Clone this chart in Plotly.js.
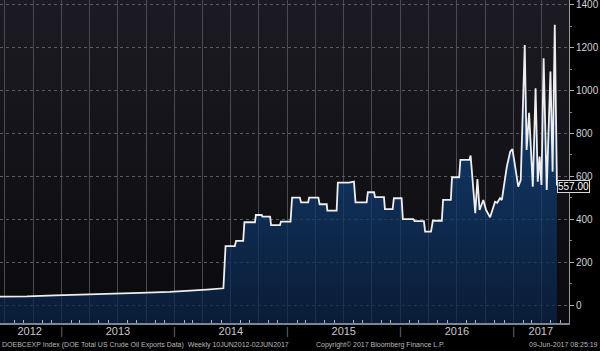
<!DOCTYPE html>
<html><head><meta charset="utf-8">
<script src="https://cdn.plot.ly/plotly-3.0.1.min.js"></script>
<style>
html,body{margin:0;padding:0;background:#000;}
#wrap{position:relative;width:600px;height:351px;background:#000;overflow:hidden;}
#bg{position:absolute;left:0;top:0;width:569px;height:323px;background:linear-gradient(#1c1b23,#0a0a0d);}
#chart{position:absolute;left:0;top:0;width:600px;height:351px;}
</style></head><body>
<div id="wrap"><div id="bg"></div><div id="chart"></div></div>
<script>
// Weekly DOE Total US Crude Oil Exports (thousand b/d)
const dates = [
 '2012-06-10','2012-09-11','2012-12-11','2013-03-12','2013-07-09','2013-09-11','2013-12-17','2014-03-19','2014-04-15','2014-06-08',
 '2014-06-15','2014-07-15','2014-07-19','2014-08-11','2014-08-15','2014-09-18','2014-09-21','2014-10-10','2014-10-12','2014-11-06',
 '2014-11-09','2014-12-08','2014-12-11','2015-01-11','2015-01-16','2015-02-10','2015-02-14','2015-03-09','2015-03-12','2015-04-11',
 '2015-04-15','2015-05-08','2015-05-10','2015-06-09','2015-06-13','2015-07-19','2015-07-29','2015-08-04','2015-08-09','2015-09-14',
 '2015-09-18','2015-10-08','2015-10-11','2015-11-09','2015-11-12','2015-12-07','2015-12-11','2016-01-05','2016-01-09','2016-02-12',
 '2016-02-16','2016-03-17','2016-03-21','2016-04-09','2016-04-15','2016-05-14','2016-05-18','2016-06-12','2016-06-16','2016-07-09',
 '2016-07-13','2016-08-11','2016-08-15','2016-08-30','2016-09-06','2016-09-13','2016-09-25','2016-10-04','2016-10-17','2016-11-02',
 '2016-11-09','2016-11-18','2016-11-24','2016-12-10','2016-12-21','2016-12-28','2017-01-06','2017-01-16','2017-01-24','2017-02-06',
 '2017-02-12','2017-02-20','2017-03-04','2017-03-13','2017-03-20','2017-03-26','2017-04-01','2017-04-08','2017-04-18','2017-04-30',
 '2017-05-07','2017-05-14','2017-05-21'
];
const values = [
 39,40,45,48,54,57,61,67,72,78,
 275,275,299,299,386,386,420,420,412,412,
 373,373,389,389,501,501,479,479,501,501,
 470,470,440,440,571,571,576,576,479,479,
 526,526,503,503,447,447,498,498,401,401,
 391,391,342,342,393,393,490,490,596,596,
 677,677,697,428,587,443,490,443,409,482,
 477,498,490,645,715,728,645,552,583,1213,
 723,897,552,1011,575,692,560,1151,537,1089,
 622,1307,557
];
const yearLabelDates = ['2012-09-20','2013-07-02','2014-07-02','2015-07-02','2016-07-02','2017-03-30'];
const yearLabels = ['2012','2013','2014','2015','2016','2017'];
const yearBoundaries = ['2013-01-01','2014-01-01','2015-01-01','2016-01-01','2017-01-01'];
const yTicks = [0,200,400,600,800,1000,1200,1400];
const yMin = -84, yMax = 1423;
const xStart = '2012-06-16', xEnd = '2017-06-29';

const base = {x: dates, y: dates.map(() => yMin), mode: 'lines', line: {width: 0}, hoverinfo: 'skip', showlegend: false};
const main = {
  x: dates, y: values, mode: 'lines', fill: 'tonexty',
  line: {color: '#eeeeee', width: 1.8},
  fillcolor: 'rgba(13,50,100,0.72)',
  fillgradient: {type: 'vertical', start: yMin, stop: 800,
    colorscale: [[0, 'rgba(10,35,71,0.72)'], [1, 'rgba(16,68,129,0.72)']]},
  showlegend: false
};
const lastV = values[values.length - 1];
const layout = {
  width: 600, height: 351,
  margin: {l: 0, r: 31, t: 0, b: 28},
  paper_bgcolor: 'rgba(0,0,0,0)', plot_bgcolor: 'rgba(0,0,0,0)',
  font: {family: 'Liberation Sans, Arial, sans-serif', color: '#c8c8c8'},
  xaxis: {
    type: 'date', range: [xStart, xEnd], tickmode: 'linear', tick0: '2012-01-01', dtick: 'M3',
    showticklabels: false, ticks: '', showgrid: true, gridcolor: '#4a4954', gridwidth: 1,
    showline: true, linecolor: '#7c8594', linewidth: 1.5, zeroline: false,
    minor: {dtick: 'M1', tick0: '2012-01-01', ticks: 'inside', ticklen: 3, tickcolor: '#aab3c0', showgrid: false}
  },
  xaxis2: {
    type: 'date', overlaying: 'x', matches: 'x', anchor: 'y', side: 'bottom',
    tickmode: 'array',
    tickvals: yearLabelDates.concat(yearBoundaries),
    ticktext: yearLabels.concat(yearBoundaries.map(() => '<span style="color:#707070">|</span>')),
    ticks: '', showgrid: false, showline: false, zeroline: false,
    tickfont: {size: 11, color: '#c8c8c8'}
  },
  yaxis: {
    side: 'right', range: [yMin, yMax], tickmode: 'array', tickvals: yTicks,
    ticks: 'outside', ticklen: 4, tickcolor: '#b0b0b0', ticklabeloverflow: 'allow',
    showline: true, linecolor: '#9a9a9a', linewidth: 1,
    showgrid: true, gridcolor: '#5a5964', griddash: 'dot', zeroline: false,
    tickfont: {size: 10, color: '#d0d0d0'},
    minor: {dtick: 100, tick0: 0, ticks: 'outside', ticklen: 2, tickcolor: '#888', showgrid: false}
  },
  annotations: [
    {x: dates[dates.length - 1], y: lastV, xref: 'x', yref: 'y', xanchor: 'left', yanchor: 'middle', yshift: -1,
     text: lastV.toFixed(2), showarrow: false, font: {size: 10, color: '#ffffff'},
     bgcolor: '#000000', bordercolor: '#d8d8d8', borderwidth: 1, borderpad: 0},
    {x: 0, y: -0.068, xref: 'paper', yref: 'paper', xanchor: 'left', yanchor: 'middle', showarrow: false,
     text: 'DOEBCEXP Index (DOE Total US Crude Oil Exports Data)  Weekly 10JUN2012-02JUN2017', font: {size: 7, color: '#b8b8b8'}},
    {x: 380/569, y: -0.068, xref: 'paper', yref: 'paper', xanchor: 'center', yanchor: 'middle', showarrow: false,
     text: 'Copyright© 2017 Bloomberg Finance L.P.', font: {size: 7, color: '#b8b8b8'}},
    {x: 600/569, y: -0.068, xref: 'paper', yref: 'paper', xanchor: 'right', yanchor: 'middle', showarrow: false,
     text: '09-Jun-2017 08:25:19', font: {size: 7, color: '#b8b8b8'}}
  ]
};
Plotly.newPlot('chart', [base, main, {x: [dates[0]], y: [null], xaxis: 'x2', showlegend: false, hoverinfo: 'skip'}], layout, {displayModeBar: false, staticPlot: true});
</script>
</body></html>
